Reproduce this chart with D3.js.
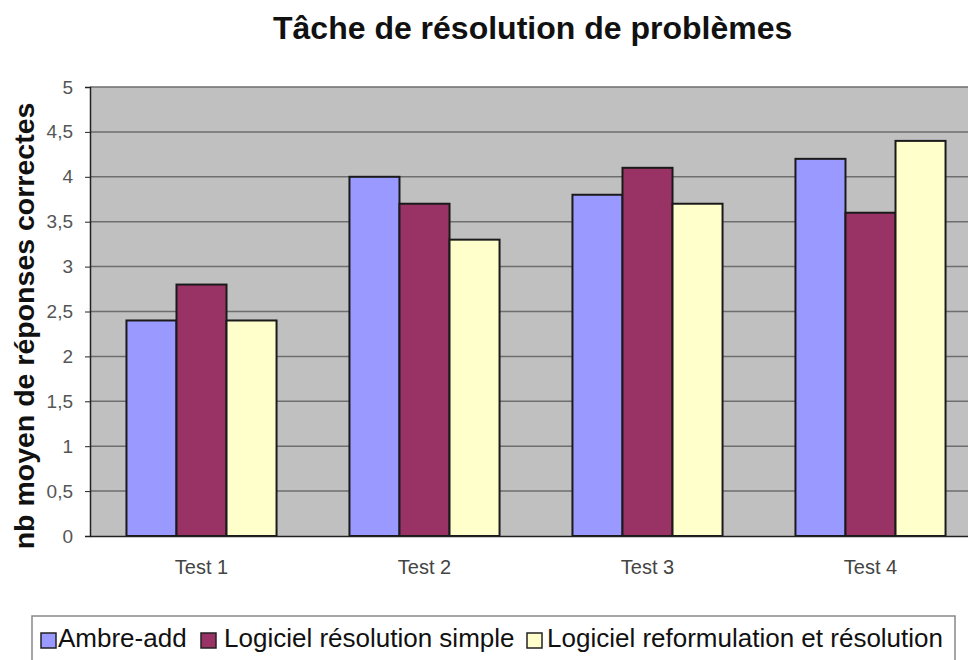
<!DOCTYPE html>
<html><head><meta charset="utf-8">
<script src="https://cdn.jsdelivr.net/npm/d3@7"></script>
<style>body{margin:0;background:#fff}svg{display:block}text{font-family:"Liberation Sans",Arial,sans-serif}</style>
</head><body>
<svg id="c" width="968" height="660"></svg>
<script>
const categories = ["Test 1","Test 2","Test 3","Test 4"];
const seriesNames = ["Ambre-add","Logiciel résolution simple","Logiciel reformulation et résolution"];
const ambre = [2.4, 4.0, 3.8, 4.2];
const simple = [2.8, 3.7, 4.1, 3.6];
const reform = [2.4, 3.3, 3.7, 4.4];
const yTicks = [0,0.5,1,1.5,2,2.5,3,3.5,4,4.5,5];
const colors = ["#9999ff","#993366","#ffffcc"];
const title = "Tâche de résolution de problèmes";
const yTitle = "nb moyen de réponses correctes";

const series = [ambre, simple, reform];
const svg = d3.select("#c");
const L = 90, R = 982, T = 87, B = 536;

svg.append("text").attr("x",273).attr("y",39)
  .attr("font-size",32).attr("font-weight","bold").attr("fill","#111").text(title);

const y = d3.scaleLinear().domain([0,5]).range([B,T]);
const x0 = d3.scaleBand().domain(categories).range([L,R]).paddingInner(0.327).paddingOuter(0.1635);
const x1 = d3.scaleBand().domain(d3.range(series.length)).range([0,x0.bandwidth()]);

svg.append("rect").attr("x",L).attr("y",T).attr("width",R-L).attr("height",B-T).attr("fill","#c0c0c0");
svg.append("g").selectAll("line").data(yTicks.slice(1)).join("line")
  .attr("x1",L).attr("x2",R).attr("y1",d=>y(d)).attr("y2",d=>y(d))
  .attr("stroke","#6e6e6e").attr("stroke-width",1.5);

const g = svg.append("g");
categories.forEach((c,i)=>{
  series.forEach((s,j)=>{
    g.append("rect").attr("x",x0(c)+x1(j)).attr("y",y(s[i]))
     .attr("width",x1.bandwidth()).attr("height",B-y(s[i]))
     .attr("fill",colors[j]).attr("stroke","#1a1a1a").attr("stroke-width",2);
  });
});

const yAxis = d3.axisLeft(y).tickValues(yTicks).tickSize(5).tickPadding(12)
  .tickFormat(d=>String(d).replace(".",","));
const ya = svg.append("g").attr("transform",`translate(${L},0)`).call(yAxis);
ya.select(".domain").attr("stroke","#222").attr("stroke-width",1.5);
ya.selectAll(".tick line").attr("stroke","#222");
ya.selectAll("text").attr("font-size",19).attr("fill","#555").attr("font-family","Liberation Sans, Arial, sans-serif");

const xAxis = d3.axisBottom(x0).tickSize(0).tickPadding(24);
const xa = svg.append("g").attr("transform",`translate(0,${B})`).call(xAxis);
xa.select(".domain").attr("stroke","#222").attr("stroke-width",1.5);
xa.selectAll("text").attr("font-size",20).attr("fill","#444").attr("font-family","Liberation Sans, Arial, sans-serif");

svg.append("text").attr("transform","translate(34,326) rotate(-90)").attr("text-anchor","middle")
  .attr("font-size",28.5).attr("font-weight","bold").attr("fill","#111").text(yTitle);

// legend
const lg = svg.append("g");
lg.append("rect").attr("x",32).attr("y",616).attr("width",923).attr("height",60)
  .attr("fill","#fff").attr("stroke","#888").attr("stroke-width",1.5);
const swatchX = [41, 201, 527];
const textX = [58, 224, 547];
seriesNames.forEach((n,j)=>{
  lg.append("rect").attr("x",swatchX[j]).attr("y",633).attr("width",15).attr("height",15)
    .attr("fill",colors[j]).attr("stroke","#222").attr("stroke-width",1.5);
  lg.append("text").attr("x",textX[j]).attr("y",647).attr("font-size",26).attr("fill","#111").text(n);
});
</script>
</body></html>
